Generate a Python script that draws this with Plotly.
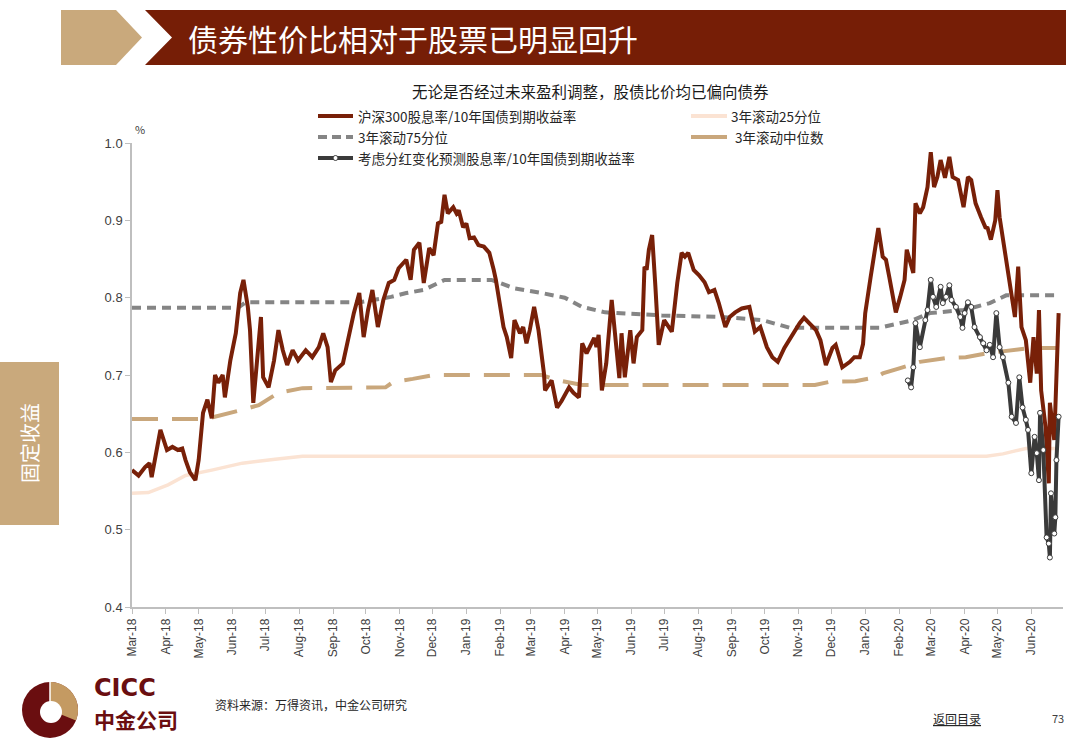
import numpy as np
import pandas as pd
import plotly.graph_objects as go

# ---- data ----
start = pd.Timestamp("2018-03-01")

main_days = [0, 6, 12, 16, 18, 26, 32, 37, 42, 46, 49, 53, 58, 61, 65, 69, 73, 76, 79, 83,
             85, 90, 95, 99, 102, 106, 108, 111, 118, 120, 125, 130, 134, 138, 142, 147, 152, 159, 165, 171,
             175, 179, 182, 186, 193, 197, 203, 208, 212, 216, 220, 225, 230, 235, 240, 244, 251, 255, 258, 263,
             267, 272, 276, 280, 283, 286, 289, 294, 297, 299, 303, 306, 309, 313, 317, 322, 327, 331, 333, 336,
             340, 343, 347, 350, 355, 358, 361, 364, 368, 372, 377, 378, 384, 389, 393, 400, 404, 409, 412, 416,
             423, 425, 427, 430, 434, 439, 442, 446, 448, 451, 456, 459, 462, 467, 469, 471, 473, 476, 479, 482,
             487, 490, 494, 499, 503, 506, 509, 514, 519, 524, 528, 533, 537, 543, 547, 552, 558, 565, 570, 575,
             581, 586, 591, 597, 603, 607, 611, 615, 620, 626, 630, 635, 641, 644, 650, 657, 661, 666, 669, 671,
             676, 681, 683, 687, 690, 693, 699, 703, 707, 709, 712, 715, 717, 721, 724, 728, 731, 734, 737, 740,
             744, 748, 751, 756, 761, 765, 768, 772, 777, 781, 783, 786, 790, 792, 794, 797, 802, 805, 808, 811,
             814, 818, 822, 825, 828, 830, 832, 836, 839, 840, 844, 848]
main_vals = [0.577, 0.570, 0.581, 0.586, 0.568, 0.629, 0.603, 0.607, 0.603, 0.605, 0.590, 0.574, 0.564, 0.590, 0.651, 0.668, 0.644, 0.700, 0.690, 0.700,
             0.671, 0.719, 0.754, 0.806, 0.823, 0.788, 0.758, 0.664, 0.775, 0.697, 0.684, 0.719, 0.758, 0.732, 0.713, 0.732, 0.719, 0.732, 0.723, 0.736,
             0.754, 0.736, 0.691, 0.706, 0.715, 0.741, 0.780, 0.806, 0.749, 0.784, 0.810, 0.762, 0.797, 0.819, 0.823, 0.838, 0.849, 0.823, 0.862, 0.871,
             0.819, 0.864, 0.855, 0.896, 0.898, 0.933, 0.909, 0.917, 0.909, 0.913, 0.891, 0.896, 0.877, 0.878, 0.868, 0.866, 0.858, 0.836, 0.823, 0.797,
             0.762, 0.749, 0.722, 0.771, 0.754, 0.762, 0.741, 0.758, 0.788, 0.758, 0.702, 0.680, 0.693, 0.658, 0.666, 0.684, 0.677, 0.671, 0.741, 0.728,
             0.748, 0.736, 0.752, 0.680, 0.715, 0.797, 0.756, 0.696, 0.754, 0.697, 0.758, 0.715, 0.749, 0.758, 0.840, 0.836, 0.862, 0.881, 0.814, 0.739,
             0.771, 0.764, 0.756, 0.819, 0.858, 0.853, 0.858, 0.836, 0.829, 0.820, 0.807, 0.810, 0.793, 0.762, 0.775, 0.781, 0.786, 0.788, 0.756, 0.762,
             0.736, 0.723, 0.717, 0.735, 0.749, 0.756, 0.767, 0.774, 0.767, 0.758, 0.745, 0.713, 0.735, 0.739, 0.710, 0.717, 0.723, 0.723, 0.740, 0.780,
             0.827, 0.875, 0.890, 0.853, 0.849, 0.827, 0.781, 0.801, 0.823, 0.862, 0.849, 0.832, 0.922, 0.909, 0.917, 0.943, 0.988, 0.943, 0.956, 0.978,
             0.955, 0.982, 0.956, 0.952, 0.917, 0.956, 0.952, 0.922, 0.904, 0.891, 0.890, 0.875, 0.900, 0.939, 0.904, 0.875, 0.832, 0.801, 0.775, 0.840,
             0.762, 0.745, 0.690, 0.749, 0.702, 0.784, 0.680, 0.633, 0.560, 0.664, 0.616, 0.780]

adj_days = [710, 713, 715, 717, 721, 726, 728, 731, 733, 736, 740, 742, 745, 748, 750, 754, 758, 760, 762, 765,
            768, 771, 776, 779, 782, 785, 788, 791, 794, 797, 802, 805, 809, 812, 815, 818, 820, 823, 826, 828,
            830, 831, 834, 837, 839, 840, 841, 844, 845, 846, 848]
adj_vals = [0.693, 0.684, 0.710, 0.767, 0.736, 0.771, 0.784, 0.823, 0.801, 0.788, 0.814, 0.793, 0.801, 0.816, 0.797, 0.788, 0.775, 0.761, 0.780, 0.794,
            0.788, 0.762, 0.749, 0.741, 0.732, 0.739, 0.723, 0.780, 0.736, 0.723, 0.690, 0.646, 0.638, 0.697, 0.658, 0.642, 0.629, 0.573, 0.620, 0.599,
            0.564, 0.651, 0.603, 0.490, 0.482, 0.464, 0.547, 0.495, 0.516, 0.590, 0.646]

p25_days = [0, 15, 33, 49, 73, 101, 131, 156, 782, 797, 818, 848]
p25_vals = [0.547, 0.548, 0.558, 0.570, 0.577, 0.586, 0.591, 0.595, 0.595, 0.598, 0.605, 0.605]

p75_days = [0, 97, 104, 208, 237, 251, 267, 286, 329, 350, 375, 396, 412, 433, 485, 540, 577, 602, 684, 715,
            730, 761, 785, 800, 848]
p75_vals = [0.787, 0.787, 0.794, 0.794, 0.801, 0.806, 0.810, 0.823, 0.823, 0.812, 0.806, 0.800, 0.788, 0.781, 0.777, 0.775, 0.771, 0.761, 0.761, 0.771,
            0.780, 0.784, 0.793, 0.803, 0.803]

med_days = [0, 67, 101, 116, 134, 156, 232, 239, 257, 276, 375, 390, 412, 625, 638, 662, 681, 687, 703, 721,
            745, 763, 782, 804, 822, 848]
med_vals = [0.643, 0.643, 0.655, 0.661, 0.677, 0.683, 0.684, 0.691, 0.695, 0.700, 0.700, 0.693, 0.687, 0.687, 0.691, 0.692, 0.697, 0.702, 0.709, 0.717,
            0.722, 0.723, 0.728, 0.732, 0.735, 0.735]

legend_names = ["沪深300股息率/10年国债到期收益率", "3年滚动25分位", "3年滚动75分位",
                "3年滚动中位数", "考虑分红变化预测股息率/10年国债到期收益率"]


def to_dates(days):
    return start + pd.to_timedelta(days, unit="D")


# ---- page geometry ----
W, H = 1080, 754
L, R, T, B = 132, 17, 143, 147
PW, PH = W - L - R, H - T - B


def px(x):
    return (x - L) / PW


def py(y):
    return (H - B - y) / PH


CJK = "Noto Sans CJK SC"
RED = "#782008"
TAN = "#C9A97C"

fig = go.Figure()
fig.add_trace(go.Scatter(x=to_dates(p25_days), y=p25_vals, mode="lines",
                         line=dict(color="#FBE3D3", width=3.5), name=legend_names[1]))
fig.add_trace(go.Scatter(x=to_dates(p75_days), y=p75_vals, mode="lines",
                         line=dict(color="#858585", width=4, dash="9px,6px"), name=legend_names[2]))
fig.add_trace(go.Scatter(x=to_dates(med_days), y=med_vals, mode="lines",
                         line=dict(color="#C9A77C", width=4, dash="26px,14px"), name=legend_names[3]))
fig.add_trace(go.Scatter(x=to_dates(main_days), y=main_vals, mode="lines",
                         line=dict(color=RED, width=4), name=legend_names[0]))
fig.add_trace(go.Scatter(x=to_dates(adj_days), y=adj_vals, mode="lines+markers",
                         line=dict(color="#3A3A3A", width=4),
                         marker=dict(size=5, color="white", line=dict(color="#3A3A3A", width=1)),
                         name=legend_names[4]))

fig.update_layout(
    width=W, height=H, margin=dict(l=L, r=R, t=T, b=B),
    paper_bgcolor="white", plot_bgcolor="white", showlegend=False,
    font=dict(family="Liberation Sans", color="#404040"),
)
fig.update_xaxes(range=["2018-03-01", "2020-06-30"], tick0="2018-03-01", dtick="M1",
                 tickformat="%b-%y", tickangle=-90, showgrid=False, showline=True,
                 linecolor="#BFBFBF", linewidth=1.5, ticks="outside", ticklen=5, tickcolor="#BFBFBF",
                 tickfont=dict(size=12, color="#404040"))
fig.update_yaxes(range=[0.4, 1.0], dtick=0.1, tickformat=".1f", showgrid=False, zeroline=False,
                 showline=True, linecolor="#BFBFBF", linewidth=1.5, ticks="outside", ticklen=5,
                 tickcolor="#BFBFBF", tickfont=dict(size=13, color="#404040"))

shapes = []
# header band
shapes.append(dict(type="path", xref="paper", yref="paper", line_width=0, fillcolor=TAN,
                   path=f"M{px(61)},{py(10)} L{px(116)},{py(10)} L{px(142)},{py(37.5)} "
                        f"L{px(116)},{py(65)} L{px(61)},{py(65)} Z"))
shapes.append(dict(type="path", xref="paper", yref="paper", line_width=0, fillcolor="#761E06",
                   path=f"M{px(145)},{py(10)} L{px(1066)},{py(10)} L{px(1066)},{py(65)} "
                        f"L{px(145)},{py(65)} L{px(172)},{py(37.5)} Z"))
# side tab
shapes.append(dict(type="rect", xref="paper", yref="paper", line_width=0, fillcolor=TAN,
                   x0=px(0), x1=px(59), y0=py(362), y1=py(525)))

# legend samples
def seg(x0, x1, y, color, width, dash="solid"):
    shapes.append(dict(type="line", xref="paper", yref="paper", x0=px(x0), x1=px(x1),
                       y0=py(y), y1=py(y), line=dict(color=color, width=width, dash=dash)))


seg(318, 353, 116, RED, 4)
seg(691, 727, 116, "#FBE3D3", 4)
seg(318, 353, 137, "#858585", 4, "9px,5px")
seg(691, 727, 137, "#C9A77C", 4)
seg(318, 353, 158, "#3A3A3A", 4)
shapes.append(dict(type="circle", xref="paper", yref="paper", fillcolor="white",
                   line=dict(color="#3A3A3A", width=1),
                   x0=px(333), x1=px(338), y0=py(160.5), y1=py(155.5)))

# logo
cx, cy, r = 50, 710, 28
shapes.append(dict(type="circle", xref="paper", yref="paper", line_width=0, fillcolor="#6A0E10",
                   x0=px(cx - r), x1=px(cx + r), y0=py(cy + r), y1=py(cy - r)))
ang = np.linspace(90, -22, 30) * np.pi / 180
pts = [f"L{px(cx + r * np.cos(a))},{py(cy - r * np.sin(a))}" for a in ang]
shapes.append(dict(type="path", xref="paper", yref="paper", line_width=0, fillcolor="#C49A62",
                   path=f"M{px(cx)},{py(cy)} " + " ".join(pts) + " Z"))
shapes.append(dict(type="circle", xref="paper", yref="paper", line_width=0, fillcolor="white",
                   x0=px(cx - 10), x1=px(cx + 12), y0=py(cy + 13), y1=py(cy - 9)))
shapes.append(dict(type="line", xref="paper", yref="paper", x0=px(cx), x1=px(cx),
                   y0=py(cy - r), y1=py(cy - 8), line=dict(color="white", width=1.5)))
fig.update_layout(shapes=shapes)


def note(x, y, text, size, color="#262626", xanchor="left", family=CJK, **kw):
    fig.add_annotation(x=px(x), y=py(y), xref="paper", yref="paper", text=text, showarrow=False,
                       xanchor=xanchor, yanchor="middle", font=dict(size=size, color=color, family=family), **kw)


note(186, 38, "债券性价比相对于股票已明显回升", 30, "white")
note(590, 91, "无论是否经过未来盈利调整，股债比价均已偏向债券", 15.5, "#1a1a1a", "center")
note(356, 116, legend_names[0], 13.5)
note(729, 116, legend_names[1], 13.5)
note(356, 137, legend_names[2], 13.5)
note(733, 137, legend_names[3], 13.5)
note(356, 158, legend_names[4], 13.5)
note(133, 129, "%", 11, "#404040")
note(29, 443, "固定收益", 20, "white", "center", textangle=-90)
note(92, 688, "<b>CICC</b>", 24, "#6A0E10", family="DejaVu Sans")
note(92, 719, "<b>中金公司</b>", 21, "#6A0E10")
note(213, 704, "资料来源：万得资讯，中金公司研究", 12)
note(931, 718, "<u>返回目录</u>", 12)
note(1050, 718, "73", 11, "#404040")

fig.write_html("out.html", config={"displayModeBar": False},
               post_script="document.body.style.margin='0';")
